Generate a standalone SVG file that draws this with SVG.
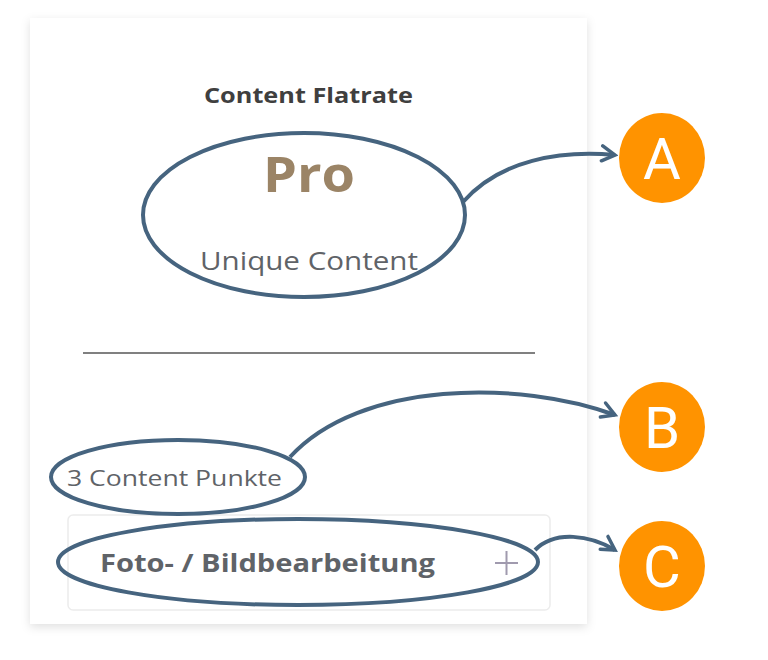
<svg xmlns="http://www.w3.org/2000/svg" width="768" height="660" viewBox="0 0 768 660">
<defs>
<filter id="sh" x="-10%" y="-10%" width="120%" height="120%"><feDropShadow dx="0" dy="3" stdDeviation="5" flood-color="#000" flood-opacity="0.12"/></filter>
<marker id="ar" viewBox="0 0 20 20" refX="17" refY="10" markerWidth="20" markerHeight="20" markerUnits="userSpaceOnUse" orient="auto"><path d="M4,2 L17,10 L4,17" fill="none" stroke="#46647f" stroke-width="3.5" stroke-linecap="round"/></marker>
<style>
.hl{fill:none;stroke:#46647f;stroke-width:4}
.badge{fill:#ff9300}
.bt{font-family:Roboto,"Liberation Sans",sans-serif;font-size:58px;fill:#fff;text-anchor:middle}
.t{font-family:"Open Sans","Noto Sans",sans-serif}
</style>
</defs>
<rect width="768" height="660" fill="#fff"/>
<g id="card">
<rect x="30" y="18" width="557" height="606" fill="#fff" filter="url(#sh)"/>
<text class="t" x="204" y="103" font-size="21" font-weight="bold" fill="#3f3f3f" textLength="209" lengthAdjust="spacingAndGlyphs">Content Flatrate</text>
<text class="t" x="263" y="192" font-size="48" font-weight="bold" fill="#9b8466" textLength="92" lengthAdjust="spacingAndGlyphs">Pro</text>
<text class="t" x="200" y="270" font-size="25" fill="#5f6368" textLength="218" lengthAdjust="spacingAndGlyphs">Unique Content</text>
<line x1="83" y1="353" x2="535" y2="353" stroke="#808080" stroke-width="2"/>
<text class="t" x="67" y="486" font-size="21" fill="#5f6368" textLength="215" lengthAdjust="spacingAndGlyphs">3 Content Punkte</text>
<rect x="68" y="515" width="482" height="95" rx="5" fill="none" stroke="#ececec" stroke-width="1.5"/>
<text class="t" x="100" y="572" font-size="25" font-weight="bold" fill="#5f6368" textLength="335" lengthAdjust="spacingAndGlyphs">Foto- / Bildbearbeitung</text>
<path d="M495,563 H518 M506.5,551 V575" stroke="#a09aae" stroke-width="2"/>
</g>
<g id="highlights">
<ellipse class="hl" cx="304" cy="215" rx="161" ry="82"/>
<ellipse class="hl" cx="178" cy="477" rx="127" ry="37"/>
<ellipse class="hl" cx="298" cy="562" rx="240" ry="43"/>
</g>
<g id="connectors">
<path class="hl" d="M463,202 C500,160 560,150 615,155" marker-end="url(#ar)"/>
<path class="hl" d="M290,457 C360,380 520,380 615,415" marker-end="url(#ar)"/>
<path class="hl" d="M535,550 C555,530 590,535 615,550" marker-end="url(#ar)"/>
</g>
<g id="A"><ellipse class="badge" cx="662" cy="158" rx="43" ry="45"/><text class="bt" x="662" y="179">A</text></g>
<g id="B"><ellipse class="badge" cx="662" cy="427" rx="43" ry="45"/><text class="bt" x="662" y="448">B</text></g>
<g id="C"><ellipse class="badge" cx="662" cy="566" rx="43" ry="45"/><text class="bt" x="662" y="587">C</text></g>
</svg>
